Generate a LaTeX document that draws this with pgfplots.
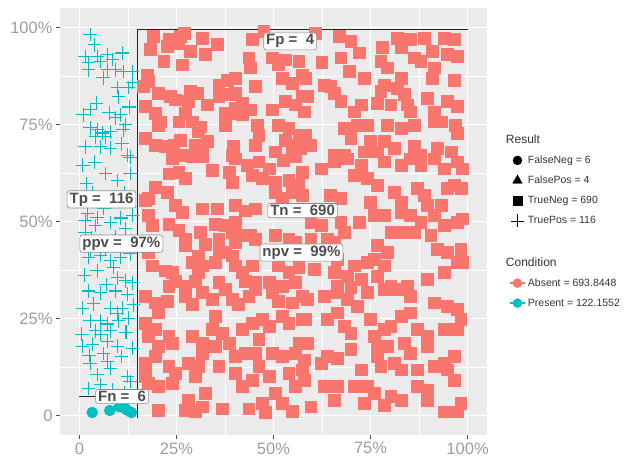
\documentclass[border=0pt]{standalone}
\usepackage{fontspec}
\setmainfont{Liberation Sans}
\usepackage{pgfplots}
\pgfplotsset{compat=1.18}

\definecolor{panelbg}{HTML}{EBEBEB}
\definecolor{ggred}{HTML}{F8766D}
\definecolor{ggteal}{HTML}{00BFC4}
\definecolor{tickgrey}{HTML}{9E9E9E}
\definecolor{labeltext}{HTML}{4D4D4D}
\definecolor{legendtext}{HTML}{333333}

% teal plus sign used for the true positives
\pgfdeclareplotmark{tpcross}{%
  \pgfsetstrokecolor{ggteal}%
  \pgfsetlinewidth{1.05pt}%
  \pgfpathmoveto{\pgfqpoint{-\pgfplotmarksize}{0pt}}%
  \pgfpathlineto{\pgfqpoint{\pgfplotmarksize}{0pt}}%
  \pgfpathmoveto{\pgfqpoint{0pt}{-\pgfplotmarksize}}%
  \pgfpathlineto{\pgfqpoint{0pt}{\pgfplotmarksize}}%
  \pgfusepathqstroke}

\tikzset{
  countlabel/.style={fill=white, draw=black!45, line width=0.6pt, rounded corners=2.5pt,
    inner xsep=2.5pt, inner ysep=1.8pt, text=labeltext,
    font=\bfseries\fontsize{15}{15}\selectfont}
}

\begin{document}
\begin{tikzpicture}
\useasboundingbox (-60pt,-25pt) rectangle (570pt,435pt);
\begin{axis}[
  at={(0,0)}, anchor=south west,
  scale only axis, width=427pt, height=427pt,
  xmin=-5, xmax=105, ymin=-5, ymax=105,
  axis background/.style={fill=panelbg},
  axis line style={draw=none},
  xtick={0,25,50,75,100}, ytick={0,25,50,75,100},
  minor xtick={12.5,37.5,62.5,87.5}, minor ytick={12.5,37.5,62.5,87.5},
  xticklabels={0,25\%,50\%,75\%,100\%},
  yticklabels={0,25\%,50\%,75\%,100\%},
  grid=both,
  major grid style={white, line width=1.1pt},
  minor grid style={white, line width=0.5pt},
  xtick pos=bottom, ytick pos=left,
  tick align=outside, major tick length=4pt, minor tick length=0pt,
  tick style={draw=black!70, line width=0.6pt},
  ticklabel style={font=\fontsize{16.5}{16.5}\selectfont, text=tickgrey},
  /pgf/number format/assume math mode=true,
  legend cell align=left,
  legend style={at={(rel axis cs:1.043,0.712)}, anchor=north west, draw=none, fill=none,
    font=\fontsize{10.5}{10.5}\selectfont, text=legendtext, row sep=8pt,
    nodes={inner sep=1.5pt}},
  legend image code/.code={\draw[mark repeat=2,mark phase=2,#1] plot coordinates {(0cm,0cm) (0.22cm,0cm) (0.44cm,0cm)};},
]

% true negatives
\addplot[only marks, mark=square*, mark size=5.9pt, ggred, mark options={draw=none, fill=ggred}, forget plot] coordinates {
(19.1,97.8) (23.0,96.9) (26.0,97.8) (26.9,98.6) (31.6,97.3) (35.4,95.6) (32.4,93.0) (44.5,96.9) (47.5,99.1)
(18.3,94.3) (22.6,95.2) (28.6,93.9) (25.6,96.0) (21.7,91.3) (26.4,90.4) (43.6,92.2) (44.0,89.6) (49.6,92.2)
(51.3,90.4) (53.1,91.7) (56.5,91.3) (17.4,87.8) (16.5,84.8) (17.8,86.1) (38.0,86.5) (40.2,87.0) (35.9,85.2)
(45.3,84.8) (52.2,87.0) (54.8,85.7) (57.4,87.8) (20.4,83.1) (23.4,82.2) (24.7,81.4) (28.6,83.5) (30.3,83.1)
(28.1,80.9) (35.9,82.2) (38.5,82.7) (40.2,83.1) (41.9,80.5) (40.2,79.2) (32.9,80.1) (49.6,78.8) (53.1,80.9)
(55.6,80.1) (57.4,82.2) (17.0,79.6) (19.6,77.9) (20.8,75.7) (20.4,74.9) (27.3,77.9) (25.6,75.7) (29.0,75.7)
(30.7,73.2) (31.2,74.4) (37.6,77.9) (39.3,77.9) (41.9,77.5) (44.0,78.8) (37.6,74.9) (45.8,74.9) (46.2,72.3)
(45.3,69.7) (51.3,74.9) (53.9,74.0) (56.5,72.3) (53.1,71.0) (55.6,69.7) (17.0,71.4) (19.6,69.7) (22.1,69.3)
(24.3,69.7) (26.0,71.0) (32.9,70.6) (29.9,69.7) (39.7,69.3) (39.3,67.1) (28.1,67.1) (31.6,67.5) (24.7,67.1)
(50.5,68.0) (54.8,68.0) (56.9,68.8)
(66.9,97.8) (69.9,96.5) (67.3,92.2) (69.5,88.7) (73.3,87.0) (78.0,94.8) (77.6,91.3) (79.3,89.6) (81.9,97.3)
(82.8,94.8) (85.3,96.9) (88.8,97.3) (86.2,92.2) (87.9,91.3) (90.9,93.9) (93.9,97.3) (96.5,96.9) (94.8,93.0)
(97.4,92.6) (91.4,89.6) (96.5,86.5) (90.9,87.0) (82.8,87.0) (81.9,84.4) (78.5,85.2) (77.6,83.5) (83.6,82.7)
(84.5,80.1) (80.2,80.1) (76.8,80.5) (72.5,80.1) (70.7,78.3) (67.3,80.9) (65.6,83.1) (63.0,85.2) (64.7,84.8)
(58.3,87.0) (58.7,82.2) (57.9,78.3) (89.6,81.8) (91.4,78.3) (94.8,80.9) (97.4,79.6) (93.1,75.7) (96.9,74.9)
(97.4,72.7) (91.4,75.7) (85.3,78.3) (86.2,74.9) (82.8,74.0) (79.3,74.9) (74.2,74.9) (71.6,74.9) (68.2,74.0)
(69.9,71.4) (75.0,70.6) (78.5,70.6) (81.1,68.8) (76.8,68.0) (86.2,69.3) (87.9,67.1) (92.2,68.8) (95.7,68.0)
(58.3,72.3) (59.6,69.7) (65.6,67.1) (68.2,67.1) (73.3,68.0) (60.8,98.6) (72.1,93.5) (62.4,91.0)
(23.9,66.2) (29.0,66.7) (31.6,66.7) (40.2,66.2) (43.2,64.5) (46.2,65.4) (48.8,63.6) (52.6,65.8) (55.6,66.7)
(23.0,62.3) (25.6,62.8) (27.3,61.1) (34.2,63.2) (38.5,62.8) (39.3,60.2) (44.5,61.9) (47.0,61.1) (50.5,60.2)
(53.9,60.6) (56.5,59.3) (57.4,62.8) (19.6,58.9) (22.6,57.6) (17.0,55.4) (17.8,55.9) (24.7,54.1) (26.4,52.4)
(31.6,53.3) (35.4,53.3) (40.2,54.1) (42.7,52.8) (45.3,53.3) (50.5,57.6) (52.2,55.9) (54.8,57.6) (57.4,56.7)
(17.8,51.6) (18.7,49.0) (23.0,49.4) (25.6,47.7) (31.2,47.2) (35.0,49.4) (37.6,49.0) (40.2,49.8) (39.3,47.2)
(35.9,45.5) (40.2,44.6) (41.9,46.4) (44.0,46.4) (45.3,45.5) (27.3,45.5) (27.3,43.8) (32.4,44.2) (35.9,42.9)
(37.6,42.0) (39.3,41.2) (35.0,39.5) (40.2,38.6) (41.9,36.9) (44.5,38.6) (17.8,42.0) (18.7,38.6) (22.1,37.3)
(23.9,36.9) (30.7,41.2) (29.0,39.5) (31.6,38.6) (30.7,36.9) (29.9,34.7) (27.3,33.4) (24.7,34.7) (23.0,33.4)
(50.5,46.4) (53.9,45.5) (55.6,44.6) (51.3,38.6) (53.9,36.9) (56.5,38.2) (48.8,34.3) (52.2,33.4) (55.6,34.3)
(35.9,34.3) (37.6,32.5) (42.7,34.7) (45.3,34.3)
(62.2,63.6) (65.6,65.4) (69.0,66.2) (72.5,64.5) (70.7,61.9) (74.2,61.1) (76.8,59.3) (78.5,65.4) (82.8,64.5)
(85.3,66.2) (87.9,64.5) (91.4,66.2) (93.9,63.6) (97.4,65.4) (98.6,63.6) (64.7,56.7) (67.3,55.9) (75.0,55.0)
(81.1,57.6) (82.8,55.0) (87.1,58.5) (88.8,56.7) (89.6,54.1) (94.8,58.5) (96.5,59.3) (98.4,58.5) (93.1,54.1)
(59.6,49.8) (62.2,49.0) (67.3,49.8) (68.2,47.2) (72.0,49.8) (75.9,51.6) (78.5,51.6) (82.8,52.4) (85.3,51.6)
(87.9,49.8) (91.4,51.6) (93.9,49.0) (97.4,49.8) (98.6,50.7) (80.2,47.2) (82.8,47.2) (86.2,47.2) (90.5,46.4)
(59.6,45.5) (63.9,45.5) (65.6,44.6) (76.8,43.8) (79.3,42.0) (75.9,40.3) (74.2,39.5) (78.5,38.6) (66.4,40.3)
(70.7,38.6) (60.4,37.7) (65.6,36.9) (69.0,36.0) (72.5,35.1) (76.8,36.0) (80.2,33.4) (84.5,33.4) (89.6,35.1)
(93.9,36.9) (92.2,42.9) (94.8,42.0) (98.2,42.9) (97.4,39.5) (98.6,39.5) (69.9,33.0) (66.4,33.4)
(17.0,30.8) (19.6,29.1) (22.6,29.5) (20.4,26.5) (27.3,30.8) (29.0,28.7) (31.6,31.7) (34.2,30.0) (35.0,25.6)
(39.3,30.0) (41.0,28.7) (43.6,30.8) (45.3,32.5) (49.6,31.7) (51.3,29.5) (54.8,29.1) (57.4,30.8)
(17.0,23.9) (17.8,20.4) (19.6,22.2) (23.0,20.4) (23.9,18.7) (29.0,20.4) (31.6,18.7) (34.2,22.2) (36.7,21.3)
(38.5,18.7) (41.9,22.2) (44.5,23.9) (47.0,24.8) (48.8,23.0) (52.2,25.6) (53.9,23.9) (57.4,24.8)
(20.4,17.8) (19.6,15.3) (17.0,13.5) (23.0,12.7) (24.7,10.9) (28.1,13.5) (30.7,12.7) (35.9,12.7) (31.6,16.1)
(35.0,17.8) (40.2,15.3) (42.7,16.1) (45.3,16.1) (46.2,19.6) (49.6,16.1) (52.2,15.3) (55.6,16.1) (56.5,18.7)
(17.0,10.1) (17.8,8.3) (20.4,7.5) (23.9,8.3) (29.9,10.1) (40.2,10.9) (41.9,7.5) (44.5,9.2) (46.2,12.7)
(48.8,10.1) (50.5,5.8) (53.9,10.9) (55.6,7.5) (57.4,11.8) (28.1,4.0) (32.4,5.8) (31.6,2.3) (27.3,1.4)
(29.9,1.0) (20.4,1.4) (36.7,1.8) (43.6,1.8) (47.0,3.2) (47.9,0.9) (52.2,3.2) (54.8,1.2)
(58.7,30.0) (63.0,30.8) (66.4,31.7) (69.0,30.0) (71.6,28.2) (74.2,31.7) (78.5,32.5) (81.9,32.5) (85.3,30.8)
(91.4,29.1) (94.8,28.2) (97.4,27.4) (98.2,24.8) (58.3,24.8) (63.9,24.8) (66.4,26.5) (68.2,23.0) (69.9,21.3)
(75.0,24.8) (78.5,22.2) (80.2,23.0) (82.8,25.6) (85.3,26.5) (87.1,22.2) (89.6,20.4) (89.6,17.8) (93.9,22.2)
(97.4,22.2) (58.7,18.7) (75.9,20.4) (76.8,17.8) (79.3,17.8) (83.6,18.7) (85.3,16.1) (76.8,15.3) (69.9,17.0)
(66.4,14.8) (63.9,15.3) (62.2,13.5) (57.9,14.4) (57.9,9.2) (63.0,7.5) (66.4,7.5) (70.7,7.5) (74.2,7.5)
(72.5,11.8) (77.6,12.7) (81.1,13.5) (82.8,11.8) (87.1,11.8) (87.1,7.5) (89.6,6.6) (89.6,4.0) (91.4,12.7)
(93.9,13.5) (96.5,15.3) (96.5,9.2) (94.8,11.8) (59.6,2.3) (65.6,4.0) (73.3,3.2) (75.9,5.8) (78.5,2.7)
(80.2,4.9) (82.8,4.0) (93.9,1.0) (98.2,3.2) (97.4,1.0)
};

% true positives
\addplot[only marks, mark=tpcross, mark size=6.8pt, ggteal, forget plot] coordinates {
(2.8,98.2) (1.5,92.5) (4.6,92.5) (7.2,93.0) (2.3,90.9) (5.4,91.2) (8.5,91.7) (2.3,89.1) (7.2,89.1)
(9.3,89.1) (11.3,88.6) (13.7,88.6) (9.8,84.5) (12.6,84.5) (13.7,85.8) (10.1,82.1) (1.0,77.5) (2.8,78.8)
(10.6,77.5) (9.3,76.7) (2.8,74.1) (4.6,73.6) (5.9,72.8) (8.0,73.1) (6.7,71.8) (4.1,71.8) (11.3,73.6)
(11.9,74.9) (1.5,69.2) (5.4,69.2) (8.0,68.9) (12.4,67.1) (13.1,66.6) (6.7,62.4) (9.8,60.6) (13.1,62.4)
(3.4,57.3) (7.2,56.2) (9.8,55.4) (2.1,52.1) (4.6,51.0) (1.5,50.3) (4.1,49.0) (8.0,49.7) (11.9,48.2)
(13.7,51.6) (1.5,47.2) (5.4,45.1) (9.3,46.1) (12.6,43.8) (2.8,42.5) (6.7,43.0) (2.3,40.7) (5.4,41.2)
(8.0,39.9) (10.6,40.7) (13.1,41.7) (4.6,37.3) (8.8,38.1) (9.8,35.5) (11.9,34.7) (13.7,34.2) (2.3,32.1)
(5.4,31.6) (9.3,32.1) (12.4,31.3) (0.8,27.7) (3.6,28.8) (8.0,27.7) (9.8,26.4) (11.1,27.7) (2.8,24.4)
(5.4,24.4) (7.2,23.6) (10.1,24.4) (12.6,25.1) (4.1,21.8) (5.4,21.0) (8.0,21.8) (0.8,17.9) (3.4,18.4)
(7.2,19.2) (9.8,17.9) (13.7,17.4) (2.8,13.5) (7.2,14.0) (8.0,12.2) (4.6,10.6) (12.4,10.1) (13.1,8.8)
(2.3,7.0) (5.4,8.0) (3.9,95.5) (6.1,87.0) (11.0,93.4) (4.4,80.5) (7.7,78.0) (12.8,79.5) (0.9,64.5)
(4.0,65.3) (10.9,70.0) (1.8,59.8) (11.5,57.5) (6.3,53.4) (3.2,45.8) (10.7,50.9) (6.9,33.8) (1.3,36.2)
(12.0,21.5) (2.5,15.6) (10.8,15.2) (6.2,16.0) (11.6,5.9) (8.5,6.6) (13.9,28.5) (0.6,21.0)
};

% false negatives
\addplot[only marks, ggteal, mark=*, mark size=5.5pt, mark options={draw=none, fill=ggteal}, forget plot] coordinates {
(3.3,0.8) (7.8,1.3) (10.3,2.3) (11.6,1.9) (12.3,1.4) (13.4,0.8)
};

% partition lines
\addplot[black!85, line width=0.8pt, forget plot] coordinates {(14.95,-0.6) (14.95,99.5) (100,99.5)};
\addplot[black!85, line width=0.8pt, forget plot] coordinates {(0,4.92) (14.95,4.92)};

% anchors for the count labels, drawn above everything after the axis
\coordinate (lTp) at (axis cs:5.7,55.7);
\coordinate (lppv) at (axis cs:10.8,44.3);
\coordinate (lFn) at (axis cs:11.0,4.9);
\coordinate (lFp) at (axis cs:54.3,96.4);
\coordinate (lTn) at (axis cs:57.5,52.8);
\coordinate (lnpv) at (axis cs:57.2,42.0);

\addlegendimage{empty legend}
\addlegendentry{\hspace*{-22pt}\fontsize{12}{12}\selectfont Result}
\addlegendimage{only marks, mark=*, black, mark size=4.5pt}
\addlegendentry{FalseNeg = 6}
\addlegendimage{only marks, mark=triangle*, black, mark size=5.5pt}
\addlegendentry{FalsePos = 4}
\addlegendimage{only marks, mark=square*, black, mark size=4.5pt}
\addlegendentry{TrueNeg = 690}
\addlegendimage{only marks, mark=+, black, mark size=6.5pt, line width=0.8pt}
\addlegendentry{TruePos = 116}
\addlegendimage{empty legend}
\addlegendentry{\rule[-6pt]{0pt}{14pt}}
\addlegendimage{empty legend}
\addlegendentry{\hspace*{-22pt}\fontsize{12}{12}\selectfont Condition}
\addlegendimage{legend image code/.code={\draw[ggred, line width=2.5pt] (-0.05cm,0) -- (0.49cm,0); \fill[ggred] (0.22cm,0) circle (4.5pt);}}
\addlegendentry{Absent = 693.8448}
\addlegendimage{legend image code/.code={\draw[ggteal, line width=2.5pt] (-0.05cm,0) -- (0.49cm,0); \fill[ggteal] (0.22cm,0) circle (4.5pt);}}
\addlegendentry{Present = 122.1552}
\end{axis}
\node[countlabel] at (lTp) {Tp =\ \ 116};
\node[countlabel] at (lppv) {ppv =\ \ 97\%};
\node[countlabel] at (lFn) {Fn =\ \ 6};
\node[countlabel] at (lFp) {Fp =\ \ 4};
\node[countlabel] at (lTn) {Tn =\ \ 690};
\node[countlabel] at (lnpv) {npv =\ \ 99\%};
\end{tikzpicture}
\end{document}
